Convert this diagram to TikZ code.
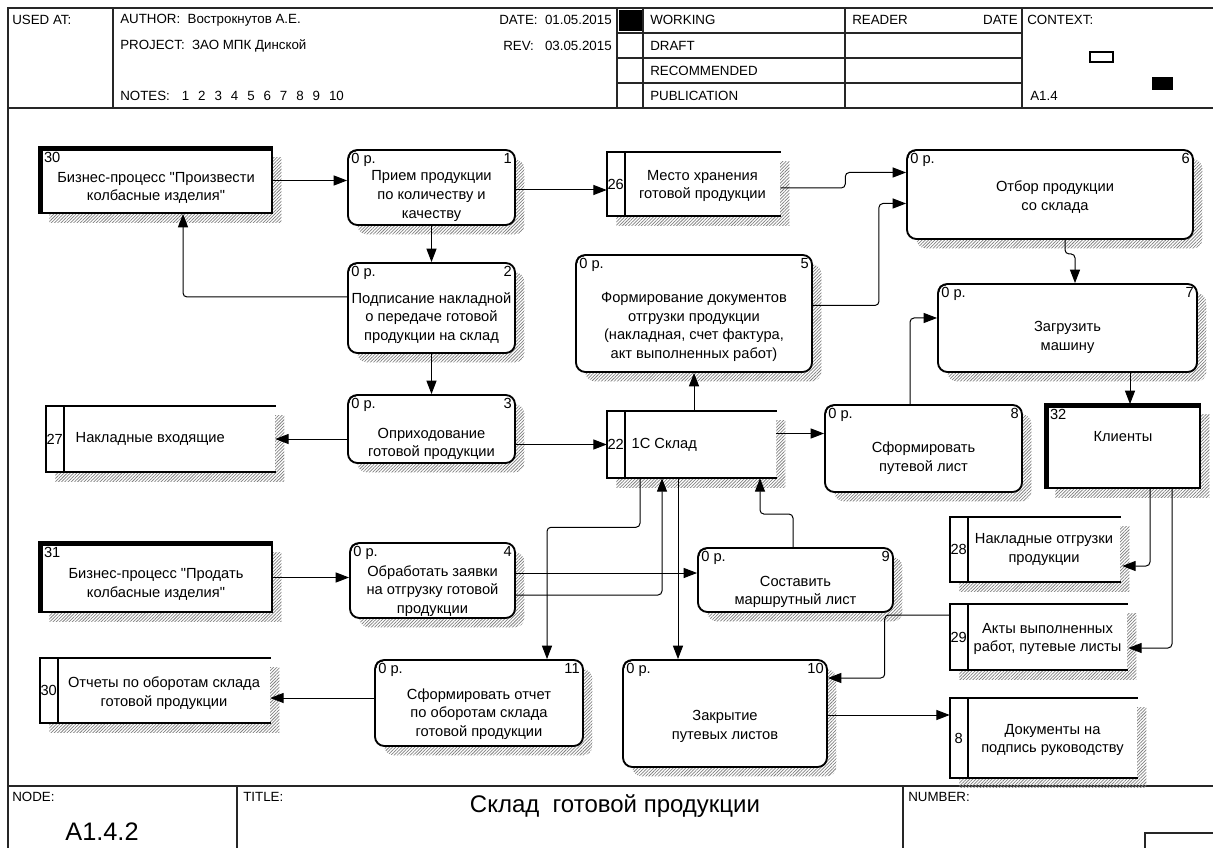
\documentclass[tikz,border=0pt]{standalone}
\usepackage{fontspec}
\setmainfont{Liberation Sans}
\newfontfamily\dfdface{Liberation Sans}
\usetikzlibrary{arrows.meta,calc,shadows,patterns.meta}
\newcommand{\dfdfont}{\dfdface\fontsize{11}{14}\selectfont}
\newcommand{\hdrfont}{\dfdface\fontsize{10}{12}\selectfont}
\newcommand{\ngap}{\hspace{6.7pt}}

\begin{document}
\begin{tikzpicture}[x=0.75pt, y=-0.75pt,
    every node/.style={font=\dfdfont},
    every label/.style={font=\dfdfont, inner sep=2pt},
    wh/.style 2 args={minimum width=#1*0.75pt, minimum height=#2*0.75pt},
    dy/.style={yshift=-(#1)*0.75pt},
    dx/.style={xshift=(#1)*0.75pt},
    corner/.style={inner sep=3pt},
    hatch/.style={drop shadow={shadow xshift=7pt, shadow yshift=-7pt, opacity=1,
        pattern={Lines[angle=45,distance=1.7pt,line width=0.55pt]}, pattern color=black!50}},
    proc/.style={draw, line width=1.4pt, rounded corners=7pt, fill=white, hatch, inner sep=0pt},
    ent/.style={draw, line width=1.4pt, fill=white, hatch, inner sep=0pt},
    store/.style={fill=white, hatch, inner sep=0pt},
    edgeline/.style={line width=1.4pt, line cap=rect},
    thickline/.style={line width=4pt},
    notch/.style={line width=0.9pt},
    flow/.style={draw, line width=0.75pt, rounded corners=3pt, -{Triangle[length=10pt,width=7.5pt]}},
    frame/.style={line width=1pt, draw=black!85},
    hdr/.style={font=\hdrfont, inner sep=0pt}
  ]
  \useasboundingbox (0,0) rectangle (1213,848);

  % Header
  \draw[frame] (8,848) -- (8,8) -- (1213,8);
  \draw[frame] (8,108) -- (1213,108);
  \foreach \cx in {113,617,643,845,1022}
    \draw[frame] (\cx,8) -- (\cx,108);
  \foreach \ry in {33,58,83}
    \draw[frame] (617,\ry) -- (1022,\ry);
  \fill (619,10) rectangle (642,31);
  \draw[line width=0.8pt] (1090,52) rectangle (1113,62);
  \fill (1152,77) rectangle (1173,90);
  \node[hdr, anchor=west] (usedat) at (12,20) {USED AT:};
  \node[hdr, anchor=west] (author) at (120,20) {AUTHOR:\ \ Вострокнутов А.Е.};
  \node[hdr, anchor=west] (project) at (120,46) {PROJECT:\ \ ЗАО МПК Динской};
  \node[hdr, anchor=west] (notes) at (120,96)
    {NOTES:\hspace{9pt}1\ngap 2\ngap 3\ngap 4\ngap 5\ngap 6\ngap 7\ngap 8\ngap 9\ngap 10};
  \node[hdr, anchor=east] (date) at (612,20) {DATE:\ \ 01.05.2015};
  \node[hdr, anchor=east] (rev) at (612,46) {REV:\ \ \ 03.05.2015};
  \node[hdr, anchor=west] (working) at (650,20) {WORKING};
  \node[hdr, anchor=west] (draft) at (650,46) {DRAFT};
  \node[hdr, anchor=west] (recom) at (650,71) {RECOMMENDED};
  \node[hdr, anchor=west] (publ) at (650,96) {PUBLICATION};
  \node[hdr, anchor=west] (reader) at (852,20) {READER};
  \node[hdr, anchor=east] (rdate) at (1018,20) {DATE};
  \node[hdr, anchor=west] (context) at (1027,20) {CONTEXT:};
  \node[hdr, anchor=west] (ctxid) at (1030,96) {A1.4};

  % Footer
  \draw[frame] (8,786) -- (1213,786);
  \draw[frame] (237,786) -- (237,848);
  \draw[frame] (903,786) -- (903,848);
  \draw[frame] (1213,833) -- (1145,833) -- (1145,848);
  \node[hdr, anchor=west] (nodelbl) at (12,797) {NODE:};
  \node[hdr, anchor=west] (titlelbl) at (243,797) {TITLE:};
  \node[hdr, anchor=west] (numlbl) at (908,797) {NUMBER:};
  \node[font=\dfdface\fontsize{18}{20}\selectfont] (title) at (615,806) {Склад~ готовой продукции};
  \node[font=\dfdface\fontsize{19}{21}\selectfont] (nodeid) at (102,832) {A1.4.2};

  % External entities
  \node[ent, wh={232}{65}, label={[anchor=north west, inner sep=3.5pt]north west:30},
        label={[dy=7.5, align=center]center:{Бизнес-процесс "Произвести\\колбасные изделия"}}]
        (e30) at (156,180.5) {};
  \node[ent, wh={232}{69}, label={[anchor=north west, inner sep=3.5pt]north west:31},
        label={[dy=7, align=center]center:{Бизнес-процесс "Продать\\колбасные изделия"}}]
        (e31) at (156,577.5) {};
  \node[ent, wh={154}{83}, label={[anchor=north west, inner sep=3.5pt]north west:32},
        label={[dy=-9.5]center:Клиенты}]
        (e32) at (1123,446.5) {};

  % Processes
  \node[proc, wh={167}{75}, label={[anchor=north west, corner]north west:0 р.},
        label={[anchor=north east, corner]north east:1},
        label={[dy=8.5, align=center]center:{Прием продукции\\по количеству и\\качеству}}]
        (p1) at (431.5,187.5) {};
  \node[proc, wh={167}{90}, label={[anchor=north west, corner]north west:0 р.},
        label={[anchor=north east, corner]north east:2},
        label={[dy=10, align=center]center:{Подписание накладной\\о передаче готовой\\продукции на склад}}]
        (p2) at (431.5,308) {};
  \node[proc, wh={167}{68}, label={[anchor=north west, corner]north west:0 р.},
        label={[anchor=north east, corner]north east:3},
        label={[dy=15, align=center]center:{Оприходование\\готовой продукции}}]
        (p3) at (431.5,429) {};
  \node[proc, wh={165}{75}, label={[anchor=north west, corner]north west:0 р.},
        label={[anchor=north east, corner]north east:4},
        label={[dy=10.5, align=center]center:{Обработать заявки\\на отгрузку готовой\\продукции}}]
        (p4) at (432.5,580.5) {};
  \node[proc, wh={236}{117}, label={[anchor=north west, corner]north west:0 р.},
        label={[anchor=north east, corner]north east:5},
        label={[dy=13.5, align=center]center:{Формирование документов\\отгрузки продукции\\(накладная, счет фактура,\\акт выполненных работ)}}]
        (p5) at (694,313.5) {};
  \node[proc, wh={286}{89}, label={[anchor=north west, corner]north west:0 р.},
        label={[anchor=north east, corner]north east:6},
        label={[dy=2.5, dx=5, align=center]center:{Отбор продукции\\со склада}}]
        (p6) at (1050,194.5) {};
  \node[proc, wh={259}{88}, label={[anchor=north west, corner]north west:0 р.},
        label={[anchor=north east, corner]north east:7},
        label={[dy=9.5, align=center]center:{Загрузить\\машину}}]
        (p7) at (1067.5,328) {};
  \node[proc, wh={197}{87}, label={[anchor=north west, corner]north west:0 р.},
        label={[anchor=north east, corner]north east:8},
        label={[dy=9.5, align=center]center:{Сформировать\\путевой лист}}]
        (p8) at (923.5,448.5) {};
  \node[proc, wh={195}{64}, label={[anchor=north west, corner]north west:0 р.},
        label={[anchor=north east, corner]north east:9},
        label={[dy=12, align=center]center:{Составить\\маршрутный лист}}]
        (p9) at (795.5,580) {};
  \node[proc, wh={204}{107}, label={[anchor=north west, corner]north west:0 р.},
        label={[anchor=north east, corner]north east:10},
        label={[dy=13, align=center]center:{Закрытие\\путевых листов}}]
        (p10) at (725,713.5) {};
  \node[proc, wh={208}{86}, label={[anchor=north west, corner]north west:0 р.},
        label={[anchor=north east, corner]north east:11},
        label={[dy=11, align=center]center:{Сформировать отчет\\по оборотам склада\\готовой продукции}}]
        (p11) at (479,703) {};
  % corner notch of the process boxes
  \foreach \p in {p1,p2,p3,p4,p5,p6,p7,p8,p9,p10,p11}
    \draw[notch] ([shift={(1.8,9)}]\p.north west) .. controls ([shift={(2.6,2.6)}]\p.north west)
      .. ([shift={(9,1.8)}]\p.north west);

  % Data stores
  \node[store, wh={173}{64}, label={[anchor=center, dx=9]west:26},
        label={[dx=9, dy=2, align=center]center:{Место хранения\\готовой продукции}}]
        (s26) at (693.5,184) {};
  \node[store, wh={229}{66}, label={[anchor=center, dx=9]west:27},
        label={[anchor=west, dx=27]west:Накладные входящие}]
        (s27) at (160.5,439) {};
  \node[store, wh={169}{67}, label={[anchor=center, dx=9]west:22},
        label={[anchor=west, dx=22]west:1С Склад}]
        (s22) at (691.5,444.5) {};
  \node[store, wh={170}{65}, label={[anchor=center, dx=9]west:28},
        label={[dx=9, align=center]center:{Накладные отгрузки\\продукции}}]
        (s28) at (1035,549.5) {};
  \node[store, wh={177}{66}, label={[anchor=center, dx=9]west:29},
        label={[dx=9, dy=2, align=center]center:{Акты выполненных\\работ, путевые листы}}]
        (s29) at (1038.5,637) {};
  \node[store, wh={230}{65}, label={[anchor=center, dx=9]west:30},
        label={[dx=9, dy=2.5, align=center]center:{Отчеты по оборотам склада\\готовой продукции}}]
        (s30) at (155,690.5) {};
  \node[store, wh={187}{80}, label={[anchor=center, dx=9]west:8},
        label={[dx=9, dy=2, align=center]center:{Документы на\\подпись руководству}}]
        (s8) at (1043.5,738) {};

  % Outlines of stores and entities
  \foreach \s in {s26,s27,s22,s28,s29,s30,s8}
    \draw[edgeline] (\s.north east) -- (\s.north west) -- (\s.south west) -- (\s.south east)
      ([xshift=13.5pt]\s.north west) -- ([xshift=13.5pt]\s.south west);
  \foreach \e in {e30,e31,e32}
    \draw[thickline] ([yshift=-1.3pt]\e.north east) -- ([xshift=1.3pt,yshift=-1.3pt]\e.north west)
      -- ([xshift=1.3pt]\e.south west);

  % Flows
  \draw[flow] (e30.east) -- (e30.east -| p1.west);
  \draw[flow] ($(p1.east)+(0,2.5)$) coordinate (f2) -- (f2 -| s26.west);
  \draw[flow] (p1.south) -- (p2.north);
  \draw[flow] ($(p2.west)+(0,-11)$) -| ($(e30.south)+(27,0)$);
  \draw[flow] (p2.south) -- (p3.north);
  \draw[flow] (p3.west |- s27.east) -- (s27.east);
  \draw[flow] (p3.east |- s22.west) -- (s22.west);
  \draw[flow] ($(s26.east)+(0,4)$) -- ++(65,0) |- ($(p6.west)+(0,-22)$);
  \draw[flow] ($(p5.east)+(0,-8)$) -- ++(66,0) |- ($(p6.west)+(0,9)$);
  \draw[flow] ($(p6.south)+(15,0)$) -- ++(0,14) -| ($(p7.north)+(7.5,0)$);
  \draw[flow] (p5.south |- s22.north) -- (p5.south);
  \draw[flow] ($(s22.east)+(0,-11)$) coordinate (f12) -- (f12 -| p8.west);
  \draw[flow] ($(p8.north)+(-13.5,0)$) |- ($(p7.west)+(0,-10)$);
  \draw[flow] ($(p7.south)+(62.5,0)$) coordinate (f14) -- (f14 |- e32.north);
  \draw[flow] ($(e32.south)+(27,0)$) |- ($(s28.east)+(2,16.5)$);
  \draw[flow] ($(e32.south)+(49,0)$) |- ($(s29.east)+(1,11)$);
  \draw[flow] ($(s29.west)+(0,-22)$) -- ++(-65,0) |- ($(p10.east)+(0,-35.5)$);
  \draw[flow] ($(p10.east)+(0,1.5)$) coordinate (f18) -- (f18 -| s8.west);
  \draw[flow] ($(p11.west)+(0,-5)$) coordinate (f19) -- (f19 -| s30.east);
  \draw[flow] (e31.east) -- (e31.east -| p4.west);
  \draw[flow] ($(p4.east)+(0,-7.5)$) coordinate (f21) -- (f21 -| p9.west);
  \draw[flow] ($(p4.east)+(0,14.5)$) -| ($(s22.south)+(-29.5,0)$);
  \draw[flow] ($(s22.south)+(-51.5,0)$) -- ++(0,49) -| ($(p11.north)+(68,0)$);
  \draw[flow] ($(s22.south)+(-13.5,0)$) coordinate (f24) -- (f24 |- p10.north);
  \draw[flow] ($(p9.north)+(-2.5,0)$) -- ++(0,-33) -| ($(s22.south)+(68.5,0)$);
\end{tikzpicture}
\end{document}
